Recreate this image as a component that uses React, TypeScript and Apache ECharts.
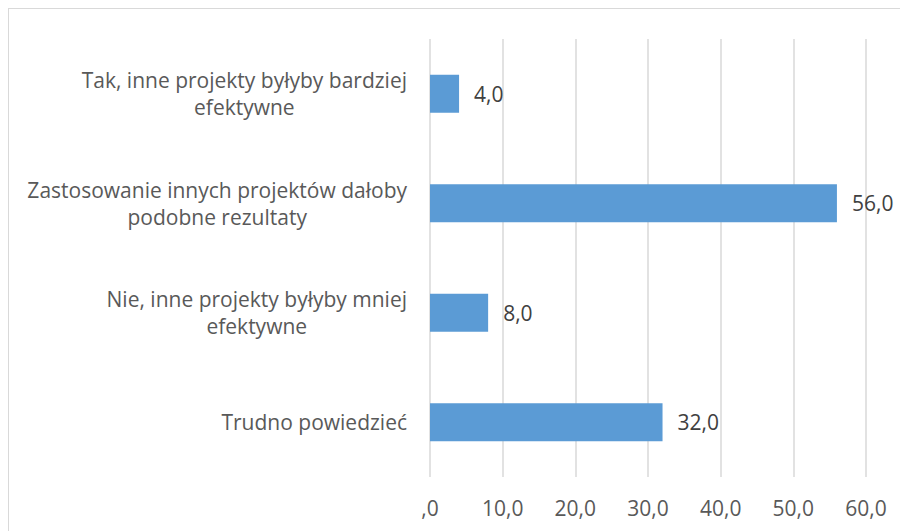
import React, { useEffect, useRef } from "react";
import * as echarts from "echarts";

const categories: string[] = [
  "Tak, inne projekty byłyby bardziej\nefektywne",
  "Zastosowanie innych projektów dałoby\npodobne rezultaty",
  "Nie, inne projekty byłyby mniej\nefektywne",
  "Trudno powiedzieć",
];
const values: number[] = [4.0, 56.0, 8.0, 32.0];
const axisMin = 0;
const axisMax = 60;
const axisStep = 10;

const fmt = (v: number) => (v === 0 ? ",0" : v.toFixed(1).replace(".", ","));
const FONT = "Open Sans";

export default function App() {
  const ref = useRef<HTMLDivElement>(null);
  useEffect(() => {
    if (!ref.current) return;
    const chart = echarts.init(ref.current, undefined, { renderer: "svg" });
    chart.setOption({
      animation: false,
      backgroundColor: "#ffffff",
      grid: { left: 421, right: 42, top: 30, bottom: 54, containLabel: false },
      xAxis: {
        type: "value",
        min: axisMin,
        max: axisMax,
        interval: axisStep,
        axisLine: { show: false },
        axisTick: { show: false },
        splitLine: { show: true, lineStyle: { color: "#d9d9d9", width: 1.5 } },
        axisLabel: {
          formatter: (v: number) => fmt(v),
          color: "#595959",
          fontFamily: FONT,
          fontSize: 21,
          margin: 20,
        },
      },
      yAxis: {
        type: "category",
        data: categories,
        inverse: true,
        axisLine: { show: false },
        axisTick: { show: false },
        splitLine: { show: false },
        axisLabel: {
          formatter: (v: string) =>
            v
              .split("\n")
              .map((l) => "{c|" + l + "}")
              .join("\n"),
          margin: 23,
          align: "right",
          rich: {
            c: {
              align: "center",
              color: "#595959",
              fontFamily: FONT,
              fontSize: 21,
              lineHeight: 27,
            },
          },
        },
      },
      series: [
        {
          type: "bar",
          data: values,
          barWidth: 38,
          itemStyle: { color: "#5b9bd5" },
          label: {
            show: true,
            position: "right",
            distance: 15,
            formatter: (p: any) => fmt(p.value),
            color: "#404040",
            fontFamily: FONT,
            fontSize: 21,
          },
        },
      ],
    });
    return () => chart.dispose();
  }, []);
  return (
    <div
      ref={ref}
      style={{
        width: 899,
        height: 522,
        borderTop: "1px solid #d9d9d9",
        borderLeft: "1px solid #d9d9d9",
      }}
    />
  );
}
